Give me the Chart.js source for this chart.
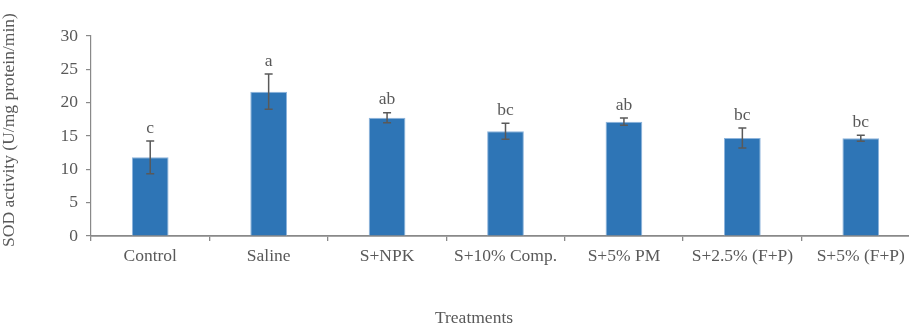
<!DOCTYPE html>
<html>
<head>
<meta charset="utf-8">
<script src="https://cdn.jsdelivr.net/npm/chart.js@4/dist/chart.umd.min.js"></script>
<style>
	html, body { margin: 0; padding: 0; overflow: hidden; background: #fff; }
	#wrap { position: relative; width: 920px; height: 325px; }
</style>
</head>
<body>
<div id="wrap"><canvas id="chart"></canvas></div>
<script>
const treatments = ["Control", "Saline", "S+NPK", "S+10% Comp.", "S+5% PM", "S+2.5% (F+P)", "S+5% (F+P)"];
const sodMeans = [11.8, 21.65, 17.75, 15.7, 17.15, 14.7, 14.65];
const sodErrors = [2.45, 2.65, 0.75, 1.2, 0.55, 1.5, 0.45];
const groupLetters = ["c", "a", "ab", "bc", "ab", "bc", "bc"];

const textColor = "#595959";
const axisColor = "#898989";
const serif = "'Liberation Serif', 'Times New Roman', serif";

// error bars, significance letters and axis titles
const errorBars = {
	id: "errorBars",
	afterDatasetsDraw(chart) {
		const ctx = chart.ctx;
		const y = chart.scales.y;
		const bars = chart.getDatasetMeta(0).data;
		ctx.save();
		ctx.strokeStyle = "#595959";
		ctx.lineWidth = 1.5;
		bars.forEach((bar, i) => {
			const top = y.getPixelForValue(sodMeans[i] + sodErrors[i]);
			const bottom = y.getPixelForValue(sodMeans[i] - sodErrors[i]);
			ctx.beginPath();
			ctx.moveTo(bar.x, top);
			ctx.lineTo(bar.x, bottom);
			ctx.moveTo(bar.x - 4, top);
			ctx.lineTo(bar.x + 4, top);
			ctx.moveTo(bar.x - 4, bottom);
			ctx.lineTo(bar.x + 4, bottom);
			ctx.stroke();

			ctx.fillStyle = textColor;
			ctx.font = "17.5px " + serif;
			ctx.textAlign = "center";
			ctx.textBaseline = "alphabetic";
			ctx.fillText(groupLetters[i], bar.x, top - 8.5);
		});

		ctx.fillStyle = textColor;
		ctx.font = "17.5px " + serif;
		ctx.textAlign = "center";
		ctx.textBaseline = "alphabetic";
		ctx.fillText("Treatments", 474, 323);

		ctx.translate(14, 130);
		ctx.rotate(-Math.PI / 2);
		ctx.fillText("SOD activity (U/mg protein/min)", 0, 0);
		ctx.restore();
	}
};

new Chart(document.getElementById("chart"), {
	type: "bar",
	data: {
		labels: treatments,
		datasets: [{
			data: sodMeans,
			backgroundColor: "#2E75B6",
			borderColor: "#8db4dc",
			borderWidth: 1,
			barPercentage: 0.31,
			categoryPercentage: 1
		}]
	},
	options: {
		responsive: true,
		maintainAspectRatio: false,
		animation: false,
		layout: { padding: { top: 36, right: 0, bottom: 0, left: 0 } },
		plugins: {
			legend: { display: false },
			tooltip: { enabled: false }
		},
		scales: {
			x: {
				afterFit: s => { s.height = 89; },
				grid: {
					offset: true,
					drawOnChartArea: false,
					drawTicks: true,
					tickLength: 5,
					color: axisColor,
					lineWidth: 1.3
				},
				border: { color: axisColor, width: 1.8 },
				ticks: {
					color: textColor,
					padding: 5,
					maxRotation: 0,
					autoSkip: false,
					font: { family: serif, size: 17.5 }
				}
			},
			y: {
				min: 0,
				max: 30,
				afterFit: s => { s.width = 91; },
				grid: {
					drawOnChartArea: false,
					drawTicks: true,
					tickLength: 5,
					color: axisColor,
					lineWidth: 1.2
				},
				border: { color: axisColor, width: 1.2 },
				ticks: {
					stepSize: 5,
					color: textColor,
					padding: 8,
					font: { family: serif, size: 17.5 }
				}
			}
		}
	},
	plugins: [errorBars]
});
</script>
</body>
</html>
